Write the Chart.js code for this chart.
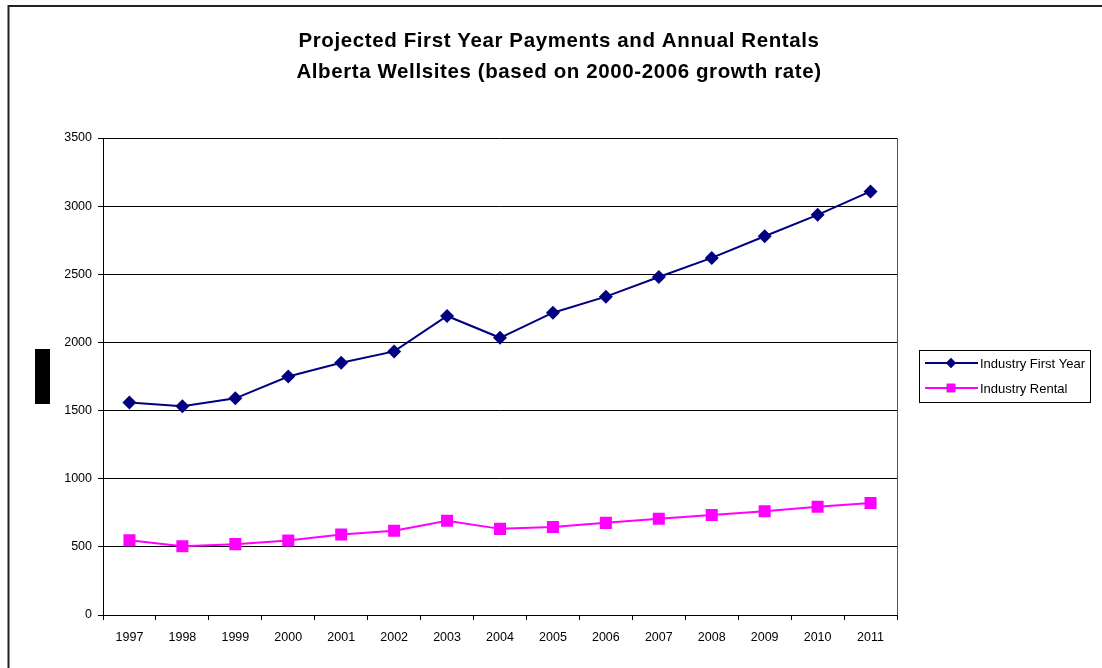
<!DOCTYPE html>
<html>
<head>
<meta charset="utf-8">
<style>
  html, body { margin: 0; padding: 0; background: #fff; }
  #wrap { width: 1102px; height: 668px; position: relative; }
</style>
<script src="https://cdn.jsdelivr.net/npm/chart.js@4.4.1/dist/chart.umd.min.js"></script>
</head>
<body>
<div id="wrap"><canvas id="c" width="1102" height="668"></canvas></div>
<script>
// Years on the category axis
const years = ['1997','1998','1999','2000','2001','2002','2003','2004','2005','2006','2007','2008','2009','2010','2011'];

// Industry first-year payments per wellsite
const firstYear = [1560, 1532, 1590, 1750, 1851, 1934, 2194, 2034, 2218, 2336, 2480, 2620, 2779, 2936, 3108];

// Industry annual rentals per wellsite
const rental = [549, 505, 520, 546, 590, 618, 691, 632, 645, 676, 706, 733, 762, 794, 821];

const titleLines = [
  'Projected First Year Payments and Annual Rentals',
  'Alberta Wellsites (based on 2000-2006 growth rate)'
];

const FONT = '"Liberation Sans", Arial, sans-serif';

// Frame, plot-area border, title, redaction block and boxed legend
const decorations = {
  id: 'decorations',
  beforeDraw(chart) {
    const ctx = chart.ctx;
    ctx.save();
    ctx.fillStyle = '#fff';
    ctx.fillRect(0, 0, chart.width, chart.height);
    // outer chart frame (top and left edges visible)
    ctx.strokeStyle = '#222';
    ctx.lineWidth = 2;
    ctx.beginPath();
    ctx.moveTo(chart.width, 6);
    ctx.lineTo(8.5, 6);
    ctx.lineTo(8.5, chart.height);
    ctx.stroke();
    ctx.restore();
  },
  afterDraw(chart) {
    const ctx = chart.ctx;
    const a = chart.chartArea;
    ctx.save();
    // right edge of the plot area
    ctx.strokeStyle = '#555';
    ctx.lineWidth = 1;
    ctx.beginPath();
    ctx.moveTo(Math.round(a.right) + 0.5, a.top);
    ctx.lineTo(Math.round(a.right) + 0.5, a.bottom);
    ctx.stroke();

    // title
    ctx.fillStyle = '#000';
    ctx.font = 'bold 20.5px ' + FONT;
    ctx.letterSpacing = '0.6px';
    ctx.textAlign = 'center';
    ctx.textBaseline = 'middle';
    ctx.fillText(titleLines[0], 559, 41);
    ctx.fillText(titleLines[1], 559, 72);
    ctx.letterSpacing = '0px';

    // blacked-out axis title
    ctx.fillStyle = '#000';
    ctx.fillRect(35, 349, 15, 55);

    // legend box
    const lx = 919, ly = 350, lw = 171, lh = 52;
    ctx.strokeStyle = '#000';
    ctx.lineWidth = 1;
    ctx.strokeRect(lx + 0.5, ly + 0.5, lw, lh);
    ctx.font = '13px ' + FONT;
    ctx.textAlign = 'left';
    ctx.textBaseline = 'middle';
    chart.data.datasets.forEach((ds, i) => {
      const y = ly + 13 + i * 25;
      ctx.strokeStyle = ds.borderColor;
      ctx.lineWidth = 2;
      ctx.beginPath();
      ctx.moveTo(925, y);
      ctx.lineTo(978, y);
      ctx.stroke();
      Chart.helpers.drawPoint(ctx, {
        pointStyle: ds.pointStyle,
        radius: ds.pointRadius * 0.7,
        rotation: 0,
        borderWidth: 0
      }, 951, y);
      ctx.fillStyle = ds.pointBackgroundColor;
      ctx.fill();
      ctx.fillStyle = '#000';
      ctx.fillText(ds.label, 980, y + 1);
    });
    ctx.restore();
  }
};

new Chart(document.getElementById('c'), {
  type: 'line',
  data: {
    labels: years,
    datasets: [
      {
        label: 'Industry First Year',
        data: firstYear,
        borderColor: '#000080',
        backgroundColor: '#000080',
        pointBackgroundColor: '#000080',
        pointBorderColor: '#000080',
        pointStyle: 'rectRot',
        pointRadius: 7,
        pointBorderWidth: 0,
        borderWidth: 2,
        tension: 0
      },
      {
        label: 'Industry Rental',
        data: rental,
        borderColor: '#ff00ff',
        backgroundColor: '#ff00ff',
        pointBackgroundColor: '#ff00ff',
        pointBorderColor: '#ff00ff',
        pointStyle: 'rect',
        pointRadius: 8.5,
        pointBorderWidth: 0,
        borderWidth: 2,
        tension: 0
      }
    ]
  },
  options: {
    responsive: false,
    animation: false,
    devicePixelRatio: 1,
    layout: { padding: { left: 0, right: 205, top: 138, bottom: 0 } },
    plugins: {
      legend: { display: false },
      title: { display: false },
      tooltip: { enabled: false }
    },
    scales: {
      x: {
        type: 'category',
        offset: true,
        afterFit(scale) { scale.height = 53; },
        grid: {
          offset: true,
          drawOnChartArea: false,
          drawTicks: true,
          tickLength: 5,
          color: '#000'
        },
        border: { color: '#000', width: 1 },
        ticks: {
          color: '#000',
          font: { family: FONT, size: 12.5 },
          padding: 10,
          maxRotation: 0,
          autoSkip: false
        }
      },
      y: {
        min: 0,
        max: 3500,
        afterFit(scale) { scale.width = 103; },
        grid: {
          color: '#000',
          lineWidth: 1,
          drawTicks: true,
          tickLength: 5
        },
        border: { color: '#000', width: 1 },
        ticks: {
          stepSize: 500,
          color: '#000',
          font: { family: FONT, size: 12.5 },
          padding: 6,
          callback: (v) => String(v)
        }
      }
    }
  },
  plugins: [decorations]
});
</script>
</body>
</html>
